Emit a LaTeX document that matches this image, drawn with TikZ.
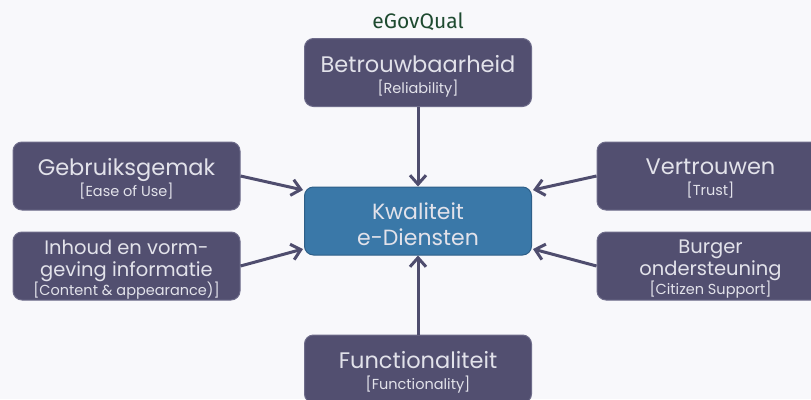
\documentclass[tikz,border=0pt]{standalone}
\usepackage{fontspec}
\setmainfont{Poppins}
\newfontfamily\titlefont{Fira Sans}
\usetikzlibrary{arrows.meta}
\definecolor{bgc}{HTML}{F8F8FB}
\definecolor{boxfill}{HTML}{524F70}
\definecolor{boxedge}{HTML}{6E6C8A}
\definecolor{ctrfill}{HTML}{3A78A8}
\definecolor{ctredge}{HTML}{2E5F88}
\definecolor{txt}{HTML}{E2E2EA}
\definecolor{arr}{HTML}{4F4D6E}
\definecolor{ttl}{HTML}{1E4A30}
\tikzset{
  dimbox/.style={draw=boxedge, line width=1pt, fill=boxfill, rounded corners=9pt,
    minimum width=227pt, minimum height=68pt, inner sep=0pt},
  ctrbox/.style={dimbox, fill=ctrfill, draw=ctredge},
  lbl/.style={text=txt, align=center, inner sep=0pt, font=\fontsize{22.5}{21}\selectfont},
  lbl3/.style={lbl, font=\fontsize{19.5}{22}\selectfont},
  lblc/.style={lbl, font=\fontsize{22}{26}\selectfont},
  conn/.style={draw=arr, line width=3pt, -{Straight Barb[length=9pt,width=16pt,line width=3pt]}},
}
\newcommand{\subtx}[1]{{\fontsize{14.5}{16}\selectfont #1}}
\begin{document}
\begin{tikzpicture}[x=1pt,y=-1pt]
\useasboundingbox (0,0) rectangle (811,399);
\fill[bgc] (0,0) rectangle (811,399);
\clip (0,0) rectangle (811,399);
\node[text=ttl, font=\titlefont\fontsize{21}{24}\selectfont] (title) at (418,21.5) {eGovQual};
\node[dimbox] (top) at (418,72.5) {};
\node[lbl] (top-t) at ([yshift=-3.5pt]top.center) {Betrouwbaarheid\\\subtx{[Reliability]}};
\node[dimbox] (lt) at (126.5,176) {};
\node[lbl] (lt-t) at ([yshift=-2.5pt]lt.center) {Gebruiksgemak\\\subtx{[Ease of Use]}};
\node[dimbox] (lb) at (126.5,266) {};
\node[lbl3] (lb-t) at ([yshift=-3.5pt]lb.center) {Inhoud en vorm-\\geving informatie\\[-3pt]\subtx{[Content \& appearance)]}};
\node[ctrbox] (c) at (418,221) {};
\node[lblc] (c-t) at ([yshift=-3.5pt]c.center) {Kwaliteit\\e-Diensten};
\node[dimbox] (rt) at (710.5,176) {};
\node[lbl] (rt-t) at ([yshift=-2.5pt]rt.center) {Vertrouwen\\\subtx{[Trust]}};
\node[dimbox] (rb) at (710.5,266) {};
\node[lbl3] (rb-t) at ([yshift=-3.5pt]rb.center) {Burger\\ondersteuning\\[-3pt]\subtx{[Citizen Support]}};
\node[dimbox] (bot) at (418,369) {};
\node[lbl] (bot-t) at ([yshift=-3.5pt]bot.center) {Functionaliteit\\\subtx{[Functionality]}};
\coordinate (c-lt) at (303,190);
\coordinate (c-lb) at (303,249);
\coordinate (c-rt) at (533,190);
\coordinate (c-rb) at (533,249);
\draw[conn] (top.south) -- (c.north);
\draw[conn] (bot.north) -- (c.south);
\draw[conn] (lt.east) -- (c-lt);
\draw[conn] (lb.east) -- (c-lb);
\draw[conn] (rt.west) -- (c-rt);
\draw[conn] (rb.west) -- (c-rb);
\end{tikzpicture}
\end{document}
